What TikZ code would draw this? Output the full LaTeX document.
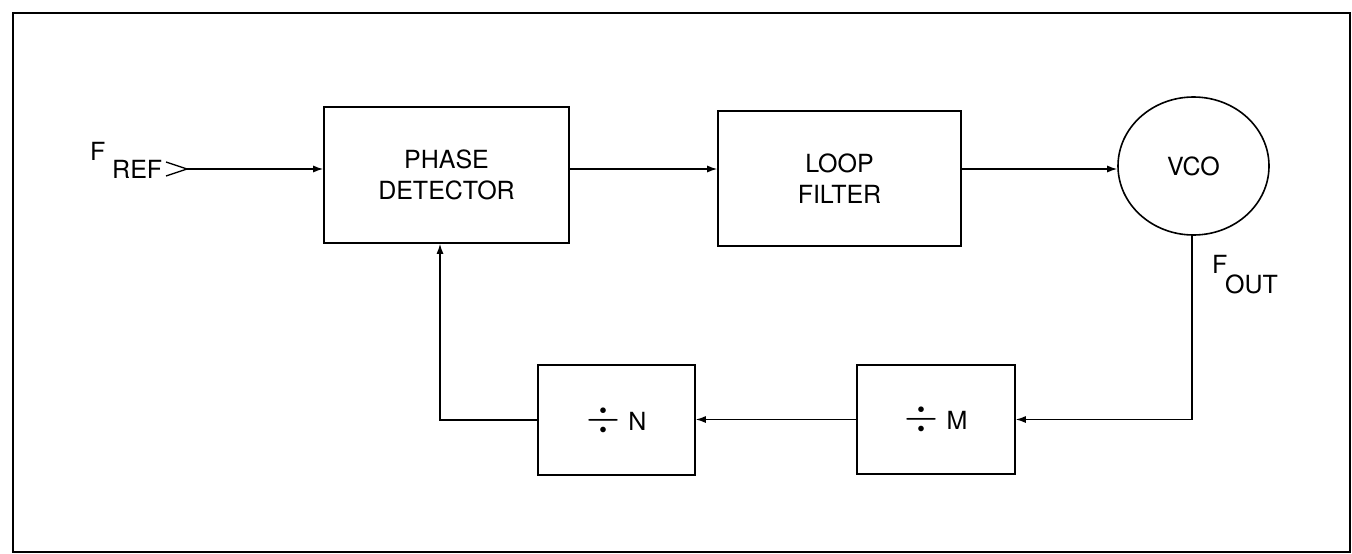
\documentclass[tikz,border=0pt]{standalone}
\usepackage{fontspec}
\setmainfont{TeX Gyre Heros}
\usepackage{graphicx}
\usetikzlibrary{shapes.geometric,arrows.meta,calc}
\tikzset{
  blk/.style={draw,line width=1.6pt,inner sep=0pt,align=center,
    font=\fontsize{25}{31}\selectfont},
  lbl/.style={inner sep=0pt,anchor=base west,font=\fontsize{25}{30}\selectfont},
  arr/.style={line width=1.3pt,-{Latex[length=10pt,width=7pt]}},
  wire/.style={line width=1.3pt},
}
\newcommand{\dvs}{\raisebox{-1pt}{\resizebox{34pt}{26pt}{$\div$}}}
\begin{document}
\begin{tikzpicture}[x=1pt,y=-1pt]
\useasboundingbox (0,0) rectangle (1352,554);
\draw[line width=2.8pt] (13,13) rectangle (1350,552);
\coordinate (sig) at (0,169);
% blocks
\node[blk,minimum width=245pt,minimum height=136pt] (pd) at (446.5,175) {PHASE\\DETECTOR};
\node[blk,minimum width=243pt,minimum height=135pt] (lf) at (839.5,178.5) {LOOP\\FILTER};
\node[blk,ellipse,minimum width=151pt,minimum height=138pt] (vco) at (1193.5,166) {VCO};
\node[blk,minimum width=158pt,minimum height=109pt] (divM) at (936,419.5) {\dvs\hspace{8pt}M};
\node[blk,minimum width=157pt,minimum height=110pt] (divN) at (616.5,420) {\dvs\hspace{8pt}N};
% input label
\node[lbl] (fF) at (90,160) {F};
\node[lbl] (fR) at (112,178) {REF};
\coordinate (fref) at (187,169);
\draw[wire] (166,162) -- (fref) -- (166,176);
% output label
\node[lbl] (oF) at (1212,273) {F};
\node[lbl] (oO) at (1225,293) {OUT};
% connectors
\draw[arr] (fref) -- (pd.west |- sig);
\draw[arr] (pd.east |- sig) -- (lf.west |- sig);
\draw[arr] (lf.east |- sig) -- (vco.west |- sig);
\draw[arr] ([xshift=-1.5pt]vco.south) |- (divM.east);
\draw[arr] (divM.west) -- (divN.east |- divM.west);
\draw[arr] (divN.west) -| ([xshift=-6.5pt]pd.south);
\end{tikzpicture}
\end{document}
